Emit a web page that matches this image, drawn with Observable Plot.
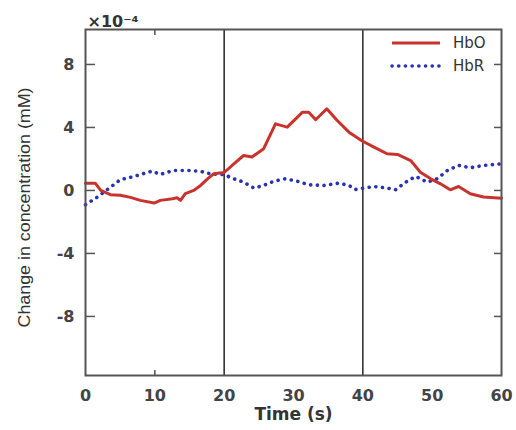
<!DOCTYPE html>
<html>
<head>
<meta charset="utf-8">
<script src="https://cdn.jsdelivr.net/npm/d3@7"></script>
<script src="https://cdn.jsdelivr.net/npm/@observablehq/plot@0.6"></script>
<style>
  html, body { margin: 0; padding: 0; background: #fff; }
  #chart { width: 516px; height: 430px; }
</style>
</head>
<body>
<div id="chart"></div>
<script>
// Time (s) and change in concentration (x10^-4 mM)
const hboTime = [0, 1.4, 2.2, 3.6, 5.0, 6.5, 7.9, 9.9, 10.8, 12.3, 13.2, 13.7, 14.4, 15.6, 16.6, 17.6, 18.5, 20.0, 21.4, 22.8, 24.0, 25.7, 27.4, 29.1, 31.3, 32.2, 33.2, 34.8, 36.3, 38.0, 39.8, 41.6, 43.5, 45.0, 46.9, 48.3, 49.8, 51.2, 52.6, 53.8, 55.5, 57.4, 60];
const hboValues = [0.46, 0.46, 0.0, -0.27, -0.3, -0.44, -0.63, -0.8, -0.63, -0.55, -0.46, -0.63, -0.2, 0.0, 0.32, 0.74, 1.06, 1.14, 1.69, 2.22, 2.12, 2.65, 4.23, 4.02, 4.97, 4.97, 4.49, 5.19, 4.44, 3.7, 3.17, 2.75, 2.33, 2.29, 1.9, 1.16, 0.74, 0.42, 0.04, 0.25, -0.21, -0.42, -0.49];
const hbrTime = [0, 1.7, 3.6, 5.0, 7.0, 9.6, 10.8, 12.7, 15.1, 16.6, 18.0, 20.0, 21.4, 22.8, 24.3, 25.7, 27.2, 28.8, 30.5, 32.2, 34.4, 36.5, 38.0, 38.9, 40.1, 41.6, 43.3, 44.7, 46.2, 47.6, 49.3, 50.7, 52.2, 53.8, 55.5, 57.4, 60];
const hbrValues = [-0.91, -0.42, 0.21, 0.68, 0.89, 1.23, 1.02, 1.27, 1.27, 1.21, 1.06, 1.0, 0.74, 0.53, 0.15, 0.32, 0.59, 0.74, 0.59, 0.36, 0.32, 0.46, 0.32, 0.06, 0.15, 0.25, 0.17, 0.04, 0.53, 0.89, 0.53, 0.74, 1.27, 1.59, 1.44, 1.59, 1.69];
const xTicks = [0, 10, 20, 30, 40, 50, 60];
const yTicks = [8, 4, 0, -4, -8];
const stimulusLines = [20, 40];
const seriesNames = ["HbO", "HbR"];
const seriesColors = ["#c8332d", "#2a32b4"];
const yLabel = "Change in concentration (mM)";

const hbo = hboTime.map((t, i) => ({t, v: hboValues[i]}));
const hbr = hbrTime.map((t, i) => ({t, v: hbrValues[i]}));

const tickFont = "'DejaVu Sans', sans-serif";
const hyphenFormat = d => String(d);

const plot = Plot.plot({
  width: 516,
  height: 430,
  marginLeft: 85,
  marginRight: 15,
  marginTop: 29,
  marginBottom: 55,
  style: {background: "#fff", overflow: "visible"},
  x: {domain: [0, 60]},
  y: {domain: [-11.75, 10.22]},
  marks: [
    Plot.ruleX(stimulusLines, {stroke: "#333", strokeWidth: 1.6}),
    Plot.line(hbr, {x: "t", y: "v", stroke: seriesColors[1], strokeWidth: 3.6, strokeDasharray: "0.1 6.6", strokeLinecap: "round"}),
    Plot.line(hbo, {x: "t", y: "v", stroke: seriesColors[0], strokeWidth: 3}),
    // inward ticks
    Plot.axisY(yTicks, {anchor: "left", tickSize: 10, dx: 10, tickFormat: () => "", label: null, stroke: "#555", strokeWidth: 1.5}),
    Plot.axisY(yTicks, {anchor: "right", tickSize: 8, dx: -8, tickFormat: () => "", label: null, stroke: "#555", strokeWidth: 1.5}),
    Plot.axisX([10], {anchor: "bottom", tickSize: 5, dy: -5, tickFormat: () => "", label: null, stroke: "#555", strokeWidth: 1.5}),
    Plot.axisX([10], {anchor: "top", tickSize: 5, dy: 5, tickFormat: () => "", label: null, stroke: "#555", strokeWidth: 1.5}),
    // labels
    Plot.axisY(yTicks, {anchor: "left", tickSize: 0, tickPadding: 11, tickFormat: hyphenFormat, label: null, fontSize: 16, fontWeight: "bold", fill: "#444", fontFamily: tickFont}),
    Plot.axisX(xTicks, {anchor: "bottom", tickSize: 0, tickPadding: 14, tickFormat: hyphenFormat, label: null, fontSize: 16, fontWeight: "bold", fill: "#444", fontFamily: tickFont}),
    Plot.frame({stroke: "#555", strokeWidth: 2}),
    Plot.text(["Time (s)"], {frameAnchor: "bottom", dy: 44, fontSize: 17, fontWeight: "bold", fill: "#333", fontFamily: tickFont}),
    Plot.text([yLabel], {frameAnchor: "left", textAnchor: "middle", dx: -61, dy: 5, rotate: -90, fontSize: 17, fill: "#333", fontFamily: "'Liberation Sans', sans-serif"}),
    Plot.text(["×10⁻⁴"], {frameAnchor: "top-left", dx: 2, dy: -14, textAnchor: "start", fontSize: 16, fontWeight: "bold", fill: "#333", fontFamily: tickFont})
  ]
});

const svg = d3.select(plot);
// stretch the y-axis title to the reference's length
svg.selectAll("text").filter(function() { return this.textContent === yLabel; })
  .attr("textLength", 240).attr("lengthAdjust", "spacingAndGlyphs");

// legend in the top-right corner of the frame
const lg = svg.append("g").attr("transform", "translate(392,43)");
seriesNames.forEach((name, i) => {
  const g = lg.append("g").attr("transform", `translate(0,${i * 23})`);
  const ln = g.append("line").attr("x1", 0).attr("x2", 48).attr("y1", 0).attr("y2", 0)
    .attr("stroke", seriesColors[i]);
  if (i === 0) ln.attr("stroke-width", 3);
  else ln.attr("stroke-width", 3.6).attr("stroke-dasharray", "0.1 6.6").attr("stroke-linecap", "round");
  g.append("text").attr("x", 61).attr("y", 0).attr("dy", "0.35em").attr("text-anchor", "start")
    .attr("font-family", tickFont).attr("font-size", 15).attr("fill", "#333").text(name);
});

document.getElementById("chart").appendChild(plot);
</script>
</body>
</html>
